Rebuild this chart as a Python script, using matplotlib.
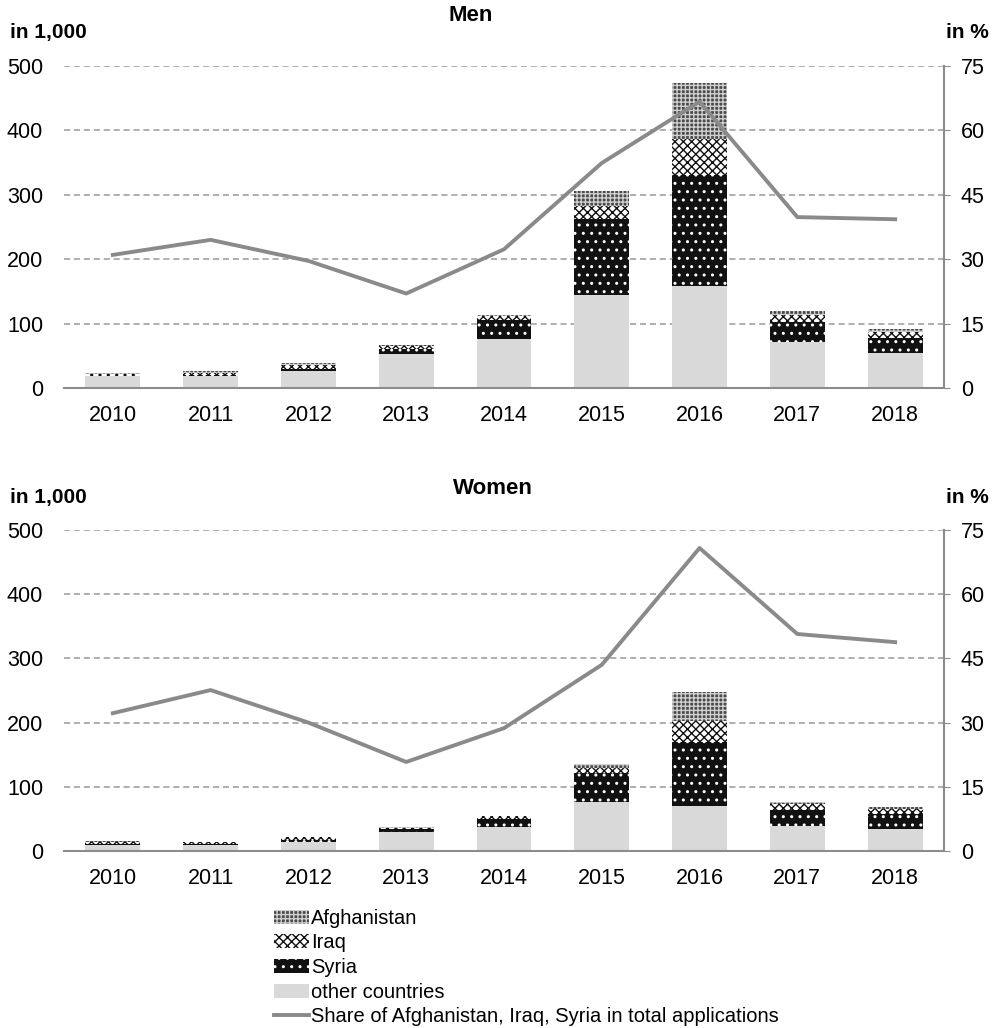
import matplotlib
matplotlib.use("Agg")
import matplotlib.pyplot as plt
import numpy as np
from matplotlib.patches import Patch
from matplotlib.lines import Line2D

# === DATA ===
years = ["2010", "2011", "2012", "2013", "2014", "2015", "2016", "2017", "2018"]

men_other = [18, 18, 26, 53, 76, 145, 159, 71, 54]
men_syria = [1, 2, 4, 8, 29, 117, 171, 32, 24]
men_iraq = [3, 4, 6, 4, 6, 20, 57, 11, 9]
men_afgh = [1, 2, 2, 2, 3, 24, 87, 5, 5]
men_share = [31.0, 34.5, 29.6, 22.0, 32.3, 52.4, 66.7, 39.8, 39.3]

women_other = [10, 10, 14, 29, 37, 77, 70, 39, 35]
women_syria = [1, 1, 3, 5, 13, 45, 100, 25, 23]
women_iraq = [3, 2.5, 4, 2, 4, 8, 32, 9, 7]
women_afgh = [1, 1, 1, 1, 1, 5, 46, 4, 3]
women_share = [32.2, 37.6, 30.0, 20.8, 28.7, 43.5, 70.8, 50.7, 48.8]

# === STYLE ===
plt.rcParams["font.family"] = ["Liberation Sans", "DejaVu Sans"]
plt.rcParams["hatch.linewidth"] = 1.0

C_OTHER = "#d9d9d9"
C_LINE = "#8a8a8a"
C_AXIS = "#8c8c8c"

styles = {
    "afgh": dict(facecolor="#4a4a4a", edgecolor="#d0d0d0", hatch="++++"),
    "iraq": dict(facecolor="white", edgecolor="#111111", hatch="xxxx"),
    "syria": dict(facecolor="#111111", edgecolor="white", hatch=".."),
    "other": dict(facecolor=C_OTHER, edgecolor=C_OTHER),
}


def draw_panel(ax, other, syria, iraq, afgh, share):
    x = np.arange(len(years))
    w = 0.56
    other = np.array(other, dtype=float)
    syria = np.array(syria, dtype=float)
    iraq = np.array(iraq, dtype=float)
    afgh = np.array(afgh, dtype=float)

    ax.bar(x, other, w, linewidth=0, **styles["other"], zorder=2)
    ax.bar(x, syria, w, bottom=other, linewidth=0, **styles["syria"], zorder=2)
    ax.bar(x, iraq, w, bottom=other + syria, linewidth=0, **styles["iraq"], zorder=2)
    ax.bar(x, afgh, w, bottom=other + syria + iraq, linewidth=0, **styles["afgh"], zorder=2)

    ax.set_xlim(-0.5, len(years) - 0.5)
    ax.set_ylim(0, 500)
    ax.set_yticks([0, 100, 200, 300, 400, 500])
    ax.set_xticks(x)
    ax.set_xticklabels(years)
    ax.yaxis.grid(True, linestyle=(0, (4, 2.5)), color="#9a9a9a", linewidth=1.1, zorder=0)
    ax.set_axisbelow(True)
    for s in ["top", "left", "right"]:
        ax.spines[s].set_visible(False)
    ax.spines["bottom"].set_color(C_AXIS)
    ax.spines["bottom"].set_linewidth(1.5)
    ax.tick_params(axis="both", length=0, labelsize=15.5)
    ax.tick_params(axis="x", pad=12)
    ax.tick_params(axis="y", pad=15)

    ax2 = ax.twinx()
    ax2.plot(x, share, color=C_LINE, linewidth=2.8, zorder=5)
    ax2.set_ylim(0, 75)
    ax2.set_yticks([0, 15, 30, 45, 60, 75])
    for s in ["top", "left", "bottom"]:
        ax2.spines[s].set_visible(False)
    ax2.spines["right"].set_color(C_AXIS)
    ax2.spines["right"].set_linewidth(1.5)
    ax2.tick_params(axis="y", length=4, color=C_AXIS, labelsize=15.5, pad=8)
    return ax2


fig = plt.figure(figsize=(9.99, 10.28), dpi=100)

ax_men = fig.add_axes([0.064, 0.6226, 0.881, 0.3132])
draw_panel(ax_men, men_other, men_syria, men_iraq, men_afgh, men_share)

ax_women = fig.add_axes([0.064, 0.1722, 0.881, 0.3122])
draw_panel(ax_women, women_other, women_syria, women_iraq, women_afgh, women_share)

# titles and axis unit labels
fig.text(0.471, 0.985, "Men", ha="center", va="center", fontsize=16, fontweight="bold")
fig.text(0.493, 0.525, "Women", ha="center", va="center", fontsize=16, fontweight="bold")
fig.text(0.010, 0.968, "in 1,000", ha="left", va="center", fontsize=15, fontweight="bold")
fig.text(0.010, 0.516, "in 1,000", ha="left", va="center", fontsize=15, fontweight="bold")
fig.text(0.990, 0.968, "in %", ha="right", va="center", fontsize=15, fontweight="bold")
fig.text(0.990, 0.516, "in %", ha="right", va="center", fontsize=15, fontweight="bold")

# legend
handles = [
    Patch(linewidth=0, **styles["afgh"]),
    Patch(linewidth=0, **styles["iraq"]),
    Patch(linewidth=0, **styles["syria"]),
    Patch(linewidth=0, **styles["other"]),
    Line2D([0], [0], color=C_LINE, linewidth=2.8),
]
labels = ["Afghanistan", "Iraq", "Syria", "other countries",
          "Share of Afghanistan, Iraq, Syria in total applications"]
fig.legend(handles, labels, loc="upper left", bbox_to_anchor=(0.274, 0.116),
           frameon=False, fontsize=14.5, handlelength=1.75, handleheight=0.7,
           handletextpad=0.1, labelspacing=0.28, borderaxespad=0, borderpad=0)

fig.savefig("out.png", dpi=100)
